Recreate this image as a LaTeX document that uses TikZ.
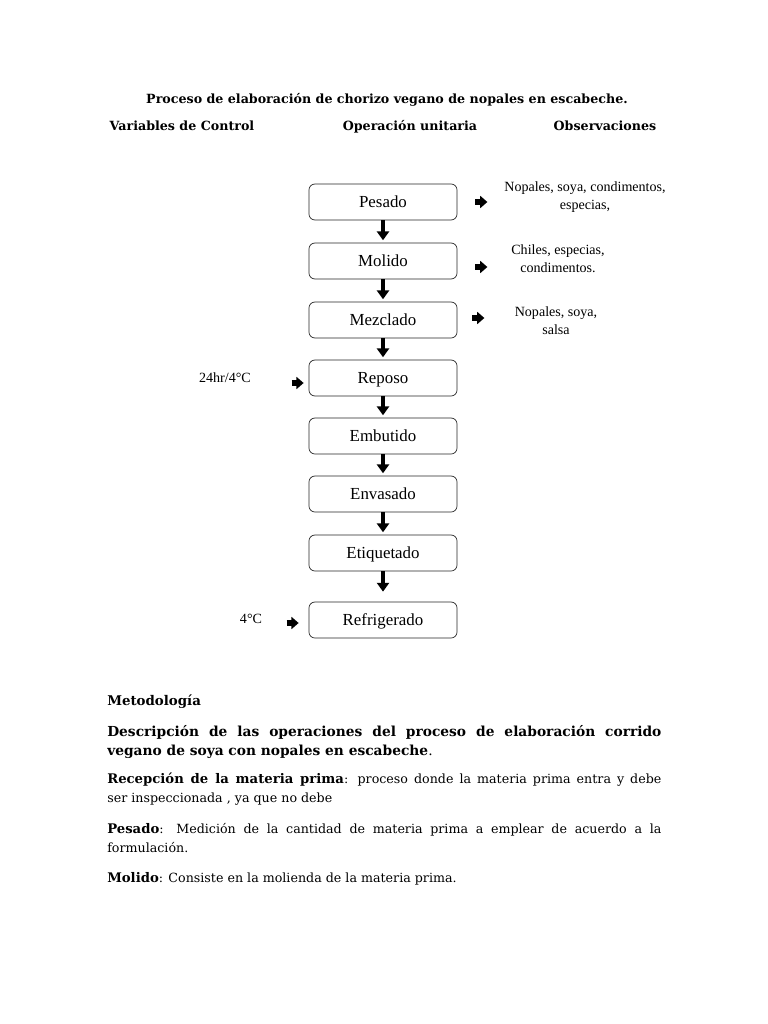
\documentclass[tikz,border=0pt]{standalone}
\usepackage{fontspec}
\setmainfont{DejaVu Serif}
\newfontfamily\timesfont{Liberation Serif}
\usetikzlibrary{arrows.meta}

\tikzset{
  paso/.style={draw=black!85, line width=0.5pt, rounded corners=1.5mm,
    minimum width=3.7cm, minimum height=0.9cm, inner sep=0pt,
    text height=10pt, text depth=1.5pt,
    font=\timesfont\fontsize{12}{13}\selectfont},
  bajada/.style={line width=1mm, -{Triangle[width=3mm,length=2.2mm]},
    shorten >=0.6mm},
  lado/.style={line width=1.4mm, -{Triangle[width=3mm,length=1.8mm]}},
  obs/.style={font=\timesfont\fontsize{10}{12.8}\selectfont, align=center,
    inner sep=0pt},
  encabezado/.style={font=\bfseries\fontsize{9}{11}\selectfont, inner sep=0pt,
    anchor=base},
  parrafo/.style={anchor=north west, text width=13.85cm, align=justify,
    inner sep=0pt, font=\fontsize{9}{13.6}\selectfont}
}

\begin{document}
\begin{tikzpicture}[x=0.025cm, y=-0.025cm]
       \fill[white] (0,0) rectangle (768,1024);
       \useasboundingbox (0,0) rectangle (768,1024);

       % titulo y columnas
       \node[encabezado](tit) at (387,104) {Proceso de elaboración de chorizo vegano de nopales en escabeche.};
       \node[encabezado](cvar) at (182,131) {Variables de Control};
       \node[encabezado](cop) at (410,131) {Operación unitaria};
       \node[encabezado](cobs) at (605,131) {Observaciones};

       % operaciones
       \node[paso](pesado) at (383,202) {Pesado};
       \node[paso](molido) at (383,261) {Molido};
       \node[paso](mezclado) at (383,320) {Mezclado};
       \node[paso](reposo) at (383,378) {Reposo};
       \node[paso](embutido) at (383,436) {Embutido};
       \node[paso](envasado) at (383,494) {Envasado};
       \node[paso](etiquetado) at (383,553) {Etiquetado};
       \node[paso](refrigerado) at (383,620) {Refrigerado};

       \draw[bajada] (pesado) -- (molido);
       \draw[bajada] (molido) -- (mezclado);
       \draw[bajada] (mezclado) -- (reposo);
       \draw[bajada] (reposo) -- (embutido);
       \draw[bajada] (embutido) -- (envasado);
       \draw[bajada] (envasado) -- (etiquetado);
       \draw[bajada, shorten >=2.5mm] (etiquetado) -- (refrigerado);

       % observaciones
       \node[obs](o1) at (585,197) {Nopales, soya, condimentos,\\especias,};
       \node[obs](o2) at (558,259) {Chiles, especias,\\condimentos.};
       \node[obs](o3) at (556,321) {Nopales, soya,\\salsa};

       \draw[lado] ([shift={(0.45cm,0)}]pesado.east) -- ++(12,0);
       \draw[lado] ([shift={(0.45cm,-0.15cm)}]molido.east) -- ++(12,0);
       \draw[lado] ([shift={(0.375cm,0.05cm)}]mezclado.east) -- ++(12,0);

       % variables de control
       \node[obs](v1) at (225,378) {24hr/4°C};
       \node[obs](v2) at (251,619) {4°C};

       \draw[lado] ([shift={(-0.425cm,-0.125cm)}]reposo.west) -- ++(12,0);
       \draw[lado] ([shift={(-0.55cm,-0.075cm)}]refrigerado.west) -- ++(12,0);

       % metodologia
       \node[encabezado, font=\bfseries\fontsize{9.5}{11}\selectfont, anchor=west](met) at (107,702) {Metodología};
       \node[parrafo, font=\fontsize{9.8}{13.6}\selectfont](desc) at (107,725) {\textbf{Descripción de las operaciones del proceso de elaboración corrido}\linebreak \textbf{vegano de soya con nopales en escabeche}.};
       \node[parrafo](recep) at (107,773) {\textbf{\fontsize{9.4}{13.6}\selectfont Recepción de la materia prima}: proceso donde la materia prima entra y debe\linebreak ser inspeccionada , ya que no debe};
       \node[parrafo](pes) at (107,823) {\textbf{\fontsize{9.4}{13.6}\selectfont Pesado}: Medición de la cantidad de materia prima a emplear de acuerdo a la\linebreak formulación.};
       \node[parrafo](mol) at (107,872) {\textbf{\fontsize{9.4}{13.6}\selectfont Molido}: Consiste en la molienda de la materia prima.};
      \end{tikzpicture}
\end{document}
